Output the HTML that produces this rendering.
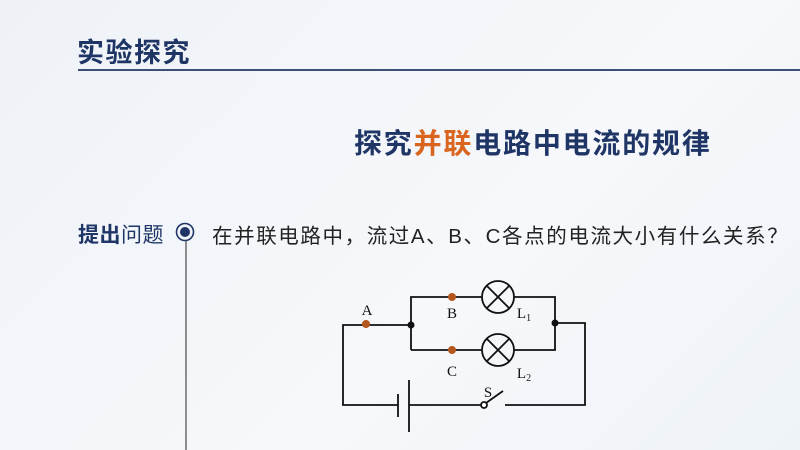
<!DOCTYPE html>
<html><head><meta charset="utf-8"><style>
body{margin:0;width:800px;height:450px;overflow:hidden;background:linear-gradient(135deg,#eef2f7,#f6f8fb 60%,#eef3f8);font-family:"Liberation Sans","Noto Sans CJK SC",sans-serif;position:relative}
.a{position:absolute;white-space:nowrap}
</style></head><body>
<div class="a" style="left:77px;top:31px;font-size:27px;font-weight:bold;color:#1f3566;letter-spacing:1.5px">实验探究</div>
<div class="a" style="left:78px;top:69px;width:722px;height:2px;background:#3d4f74"></div>
<div class="a" style="left:354px;top:122px;font-size:28px;font-weight:bold;color:#1f3566;letter-spacing:1.8px">探究<span style="color:#d9651f">并联</span>电路中电流的规律</div>
<div class="a" style="left:78px;top:219px;font-size:21px;color:#1f3566;letter-spacing:0.5px"><b>提出</b>问题</div>
<div class="a" style="left:212px;top:219px;font-size:20.5px;color:#222;letter-spacing:1.6px">在并联电路中，流过A、B、C各点的电流大小有什么关系？</div>
<svg class="a" style="left:0;top:0" width="800" height="450">
<circle cx="185" cy="232" r="8.5" fill="none" stroke="#1f3566" stroke-width="1.6"/>
<circle cx="185" cy="232" r="5" fill="#1f3566"/>
<line x1="186" y1="241" x2="186" y2="450" stroke="#555" stroke-width="1.3"/>
<g stroke="#111" stroke-width="1.8" fill="none">
<polyline points="398,405 343,405 343,325 411,325"/>
<polyline points="411,350 411,297 482,297"/>
<polyline points="514,297 555,297 555,350 514,350"/>
<polyline points="482,350 411,350"/>
<polyline points="555,323 585,323 585,405 505,405"/>
<line x1="409" y1="405" x2="481" y2="405"/>
<line x1="398" y1="394" x2="398" y2="417"/>
<line x1="409" y1="380" x2="409" y2="432"/>
<circle cx="484" cy="405" r="3" fill="#fff"/>
<line x1="486" y1="403" x2="503" y2="391"/>
<circle cx="498" cy="297" r="16"/><line x1="487" y1="286" x2="509" y2="308"/><line x1="509" y1="286" x2="487" y2="308"/>
<circle cx="498" cy="350" r="16"/><line x1="487" y1="339" x2="509" y2="361"/><line x1="509" y1="339" x2="487" y2="361"/>
</g>
<circle cx="411" cy="325" r="3.5" fill="#111"/><circle cx="555" cy="323" r="3.5" fill="#111"/>
<g fill="#b5561e"><circle cx="366" cy="324" r="4"/><circle cx="452" cy="297" r="4"/><circle cx="452" cy="350" r="4"/></g>
<g font-family="Liberation Serif,serif" font-size="15" fill="#111" text-anchor="middle">
<text x="367" y="315">A</text><text x="452" y="318">B</text><text x="452" y="376">C</text>
<text x="488" y="397">S</text>
<text x="524" y="318">L<tspan font-size="10" dy="3">1</tspan></text>
<text x="524" y="378">L<tspan font-size="10" dy="3">2</tspan></text>
</g>
</svg>
</body></html>
